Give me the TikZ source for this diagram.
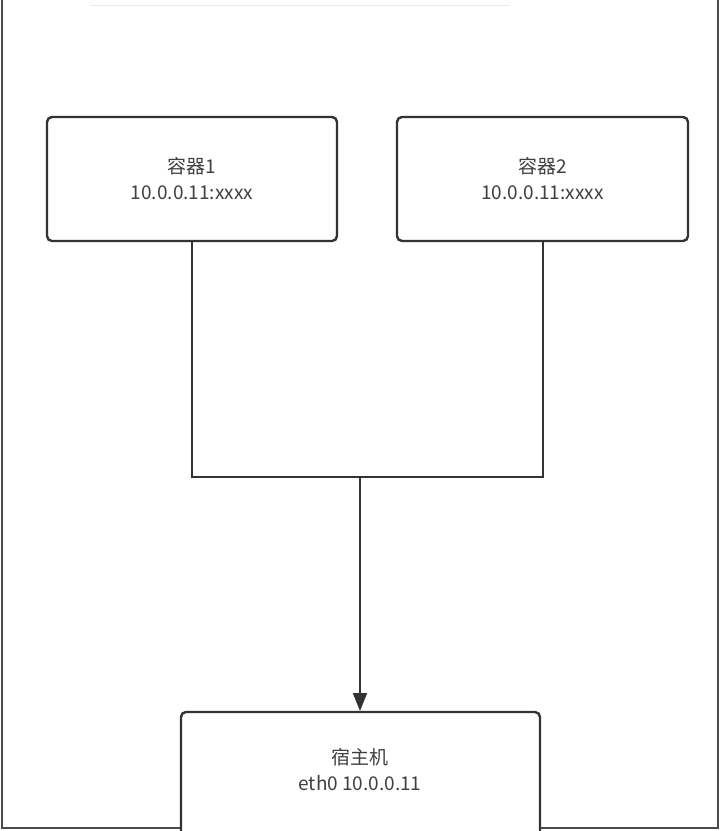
\documentclass[tikz,border=0pt]{standalone}
\usepackage{fontspec}
\setmainfont{Noto Sans CJK SC}
\usetikzlibrary{arrows.meta}
\begin{document}
\begin{tikzpicture}[x=1pt,y=-1pt,
  box/.style={draw=black!80,line width=2.4pt,rounded corners=5pt,fill=white},
  lbl/.style={align=center,text=black!75,font=\fontsize{19}{26}\selectfont},
  wire/.style={draw=black!80,line width=2pt}]
\useasboundingbox (0,0) rectangle (721,831);
\fill[white] (0,0) rectangle (721,831);
\draw[black!70,line width=1.5pt] (2,0) -- (2,828) -- (718,828) -- (718,0);
\draw[black!8,line width=1pt] (90,5) -- (510,5);
\draw[box] (47,117) rectangle (337,241);
\node[lbl] (c1) at (192,179) {容器1\\10.0.0.11:xxxx};
\draw[box] (397,117) rectangle (688,241);
\node[lbl] (c2) at (542.5,179) {容器2\\10.0.0.11:xxxx};
\draw[box] (181,712) rectangle (540,840);
\node[lbl] (h) at (360,770) {宿主机\\eth0 10.0.0.11};
\coordinate (a) at (192,241);
\coordinate (b) at (542.5,241);
\coordinate (j) at (360,477);
\coordinate (t) at (360,711);
\draw[wire] (a) |- (j) -| (b);
\draw[wire,-{Triangle[length=18pt,width=14pt]}] (j) -- (t);
\end{tikzpicture}
\end{document}
